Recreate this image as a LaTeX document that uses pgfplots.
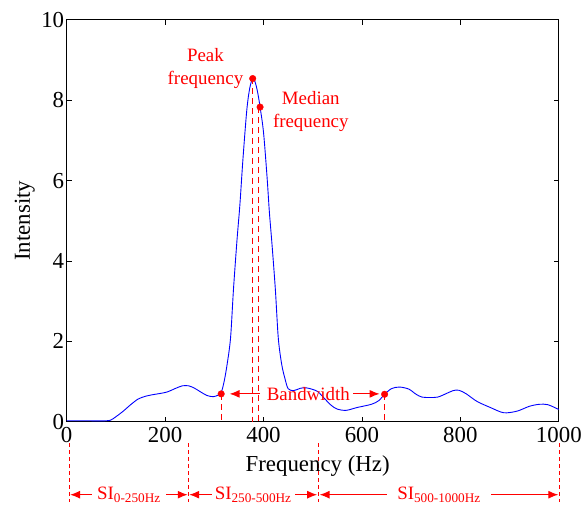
\documentclass[border=0pt]{standalone}
\usepackage{pgfplots}
\pgfplotsset{compat=1.18}
\usepackage{fontspec}
\setmainfont{Liberation Serif}
\usetikzlibrary{arrows.meta}

\newcommand{\redfont}{\rmfamily\fontsize{19bp}{23bp}\selectfont}

\begin{document}
\begin{tikzpicture}
\begin{axis}[
    width=495bp, height=404bp,
    scale only axis,
    clip=false,
    xmin=0, xmax=1000,
    ymin=0, ymax=10,
    xtick={0,200,...,1000},
    ytick={0,2,...,10},
    tick align=inside,
    major tick length=5bp,
    axis line style={line width=1bp},
    every tick/.style={black, line width=0.8bp},
    tick label style={font=\rmfamily\fontsize{23bp}{23bp}\selectfont},
    /pgf/number format/assume math mode=true,
    /pgf/number format/1000 sep={},
    xticklabel style={yshift=-2bp},
    yticklabel style={xshift=1bp},
    xlabel={Frequency (Hz)},
    ylabel={Intensity},
    label style={font=\rmfamily\fontsize{23bp}{23bp}\selectfont},
    xlabel style={at={(axis description cs:0.51,-0.11)}, anchor=center},
    ylabel style={at={(axis description cs:-0.085,0.5)}, anchor=center},
]

% spectrum
\addplot[blue, line width=0.9bp, smooth, tension=0.5] coordinates {
(0,0.02) (40,0.02) (80,0.02) (90,0.04) (100,0.12) (115,0.26) (130,0.42)
(145,0.56) (160,0.63) (175,0.67) (190,0.70) (205,0.74) (220,0.82)
(235,0.89) (248,0.89) (260,0.83) (272,0.74) (285,0.65) (298,0.62)
(308,0.66) (314,0.72) (320,1.0) (326,1.42) (333,2.08) (339,3.3)
(346,4.5) (352,5.4) (358,6.5) (366,7.75) (372,8.3) (378,8.54)
(383,8.45) (388,8.2) (393,7.83) (400,7.2) (407,6.12) (412,5.2)
(417,4.45) (424,3.3) (430,2.08) (437,1.42) (444,1.05) (450,0.82)
(461,0.77) (475,0.83) (487,0.84) (500,0.80) (511,0.74) (525,0.56)
(538,0.40) (550,0.31) (568,0.28) (590,0.35) (619,0.43) (634,0.52)
(646,0.68) (660,0.82) (676,0.86) (695,0.81) (710,0.68) (722,0.61)
(738,0.60) (754,0.61) (770,0.69) (785,0.77) (797,0.78) (812,0.69)
(834,0.50) (861,0.35) (888,0.22) (915,0.26) (940,0.38) (960,0.43)
(978,0.42) (1000,0.30)
};

% marker lines
\addplot[red, line width=1.3bp, dash pattern=on 6bp off 4bp] coordinates {(378,8.54) (378,0)};
\addplot[red, line width=1.3bp, dash pattern=on 6bp off 4bp] coordinates {(390,7.83) (390,0)};
\addplot[red, line width=1.3bp, dash pattern=on 6bp off 4bp] coordinates {(314,0.69) (314,0)};
\addplot[red, line width=1.3bp, dash pattern=on 6bp off 4bp] coordinates {(646,0.68) (646,0)};

% marker dots
\addplot[red, only marks, mark=*, mark size=3.3bp] coordinates {
(378,8.54) (393,7.83) (314,0.69) (646,0.68)
};

% labels
\node[red, font=\redfont, align=center] at (axis cs:282,8.80) {Peak\\frequency};
\node[red, font=\redfont, align=center] at (axis cs:496,7.72) {Median\\frequency};
\node[red, font=\redfont] at (axis cs:491,0.69) {Bandwidth};
\draw[red, line width=1.2bp, -{Latex[length=10bp,width=8bp]}] (axis cs:393,0.69) -- (axis cs:331,0.69);
\draw[red, line width=1.2bp, -{Latex[length=10bp,width=8bp]}] (axis cs:582,0.69) -- (axis cs:636,0.69);

% spectral index ranges below the axis
\foreach \xx in {6,247,511,1001} {
  \edef\temp{\noexpand\draw[red, line width=1bp, dash pattern=on 4bp off 3bp] (axis cs:\xx,-0.545) -- (axis cs:\xx,-2.0);}
  \temp
}
\draw[red, line width=1.2bp, {Latex[length=10bp,width=8bp]}-{Latex[length=10bp,width=8bp]}]
  (axis cs:7,-1.82) -- (axis cs:246,-1.82)
  node[midway, fill=white, inner xsep=5bp, inner ysep=1bp, font=\redfont] {SI\textsubscript{0-250Hz}};
\draw[red, line width=1.2bp, {Latex[length=10bp,width=8bp]}-{Latex[length=10bp,width=8bp]}]
  (axis cs:249,-1.82) -- (axis cs:509,-1.82)
  node[midway, fill=white, inner xsep=3bp, inner ysep=1bp, font=\redfont] {SI\textsubscript{250-500Hz}};
\draw[red, line width=1.2bp, {Latex[length=10bp,width=8bp]}-{Latex[length=10bp,width=8bp]}]
  (axis cs:514,-1.82) -- (axis cs:999,-1.82)
  node[midway, fill=white, inner xsep=10bp, inner ysep=1bp, font=\redfont] {SI\textsubscript{500-1000Hz}};

% frame of the picture
\path (axis description cs:-0.1354,1.0495) (axis description cs:1.0465,-0.215);
\end{axis}
\end{tikzpicture}
\end{document}
